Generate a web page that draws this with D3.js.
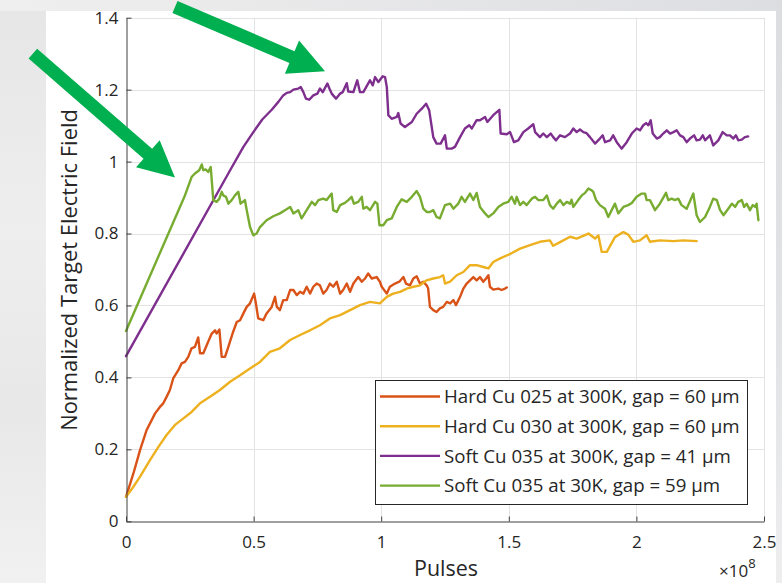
<!DOCTYPE html>
<html>
<head>
<meta charset="utf-8">
<script src="https://cdn.jsdelivr.net/npm/d3@7"></script>
<style>
  body { margin: 0; background: #fff; }
  svg { display: block; }
  text { font-family: "Open Sans", "Noto Sans", sans-serif; fill: #262626; }
</style>
</head>
<body>
<svg id="chart" width="782" height="583"></svg>
<script>
// ---- data (pulses in units of 1e8, normalized target field) ----
const xTicks = [0, 0.5, 1, 1.5, 2, 2.5];
const yTicks = [0, 0.2, 0.4, 0.6, 0.8, 1, 1.2, 1.4];
const xTickLabels = ["0", "0.5", "1", "1.5", "2", "2.5"];
const yTickLabels = ["0", "0.2", "0.4", "0.6", "0.8", "1", "1.2", "1.4"];

const seriesNames = [
  "Hard Cu 025 at 300K, gap = 60 \u03bcm",
  "Hard Cu 030 at 300K, gap = 60 \u03bcm",
  "Soft Cu 035 at 300K, gap = 41 \u03bcm",
  "Soft Cu 035 at 30K, gap = 59 \u03bcm"
];
const seriesColors = ["#D95319", "#EDB120", "#7E2F8E", "#77AC30"];

const hardCu025 = [
  [0,0.068],[0.029,0.133],[0.055,0.198],[0.081,0.254],[0.114,0.300],[0.133,0.318],[0.146,0.328],
  [0.159,0.346],[0.172,0.365],[0.185,0.397],[0.205,0.420],[0.218,0.439],[0.231,0.443],[0.244,0.457],
  [0.257,0.481],[0.270,0.485],[0.283,0.511],[0.290,0.467],[0.303,0.467],[0.322,0.499],[0.336,0.522],
  [0.349,0.531],[0.355,0.522],[0.366,0.533],[0.375,0.457],[0.388,0.457],[0.401,0.485],[0.420,0.527],
  [0.434,0.554],[0.447,0.559],[0.460,0.578],[0.473,0.596],[0.486,0.606],[0.502,0.633],[0.509,0.606],
  [0.518,0.564],[0.538,0.559],[0.551,0.578],[0.571,0.596],[0.584,0.624],[0.591,0.596],[0.603,0.587],
  [0.616,0.615],[0.630,0.615],[0.643,0.643],[0.656,0.643],[0.669,0.629],[0.682,0.638],[0.695,0.633],
  [0.708,0.652],[0.721,0.633],[0.734,0.652],[0.747,0.661],[0.760,0.656],[0.773,0.633],[0.786,0.643],
  [0.799,0.661],[0.812,0.652],[0.826,0.666],[0.839,0.633],[0.851,0.643],[0.865,0.661],[0.878,0.638],
  [0.891,0.661],[0.910,0.679],[0.924,0.666],[0.937,0.675],[0.949,0.689],[0.963,0.675],[0.982,0.679],
  [0.995,0.666],[1.002,0.652],[1.022,0.633],[1.034,0.652],[1.054,0.661],[1.071,0.666],[1.087,0.679],
  [1.097,0.661],[1.113,0.656],[1.126,0.675],[1.139,0.681],[1.152,0.661],[1.165,0.666],[1.178,0.656],
  [1.184,0.647],[1.191,0.596],[1.204,0.587],[1.217,0.582],[1.230,0.592],[1.243,0.596],[1.257,0.610],
  [1.270,0.606],[1.283,0.615],[1.293,0.601],[1.309,0.624],[1.322,0.647],[1.335,0.661],[1.348,0.670],
  [1.361,0.679],[1.374,0.670],[1.387,0.679],[1.400,0.666],[1.411,0.675],[1.420,0.684],[1.426,0.652],
  [1.439,0.644],[1.459,0.647],[1.472,0.643],[1.485,0.647],[1.492,0.650]
];

const hardCu030 = [
  [0,0.068],[0.029,0.096],[0.055,0.124],[0.094,0.170],[0.127,0.207],[0.159,0.240],[0.192,0.268],
  [0.225,0.286],[0.257,0.304],[0.290,0.328],[0.329,0.346],[0.368,0.365],[0.408,0.388],[0.447,0.406],
  [0.486,0.425],[0.525,0.443],[0.564,0.471],[0.603,0.481],[0.643,0.504],[0.682,0.518],[0.721,0.531],
  [0.760,0.545],[0.799,0.564],[0.839,0.573],[0.878,0.587],[0.917,0.601],[0.956,0.610],[0.995,0.606],
  [1.022,0.624],[1.047,0.633],[1.074,0.638],[1.100,0.647],[1.126,0.652],[1.152,0.656],[1.178,0.670],
  [1.204,0.675],[1.230,0.679],[1.243,0.684],[1.250,0.661],[1.270,0.666],[1.296,0.684],[1.322,0.693],
  [1.348,0.712],[1.374,0.712],[1.400,0.707],[1.420,0.703],[1.439,0.721],[1.466,0.731],[1.505,0.743],
  [1.544,0.758],[1.583,0.768],[1.622,0.777],[1.661,0.781],[1.674,0.766],[1.701,0.776],[1.740,0.791],
  [1.766,0.786],[1.812,0.800],[1.838,0.786],[1.851,0.795],[1.864,0.749],[1.884,0.749],[1.916,0.790],
  [1.949,0.804],[1.968,0.797],[1.988,0.777],[2.014,0.781],[2.040,0.795],[2.053,0.777],[2.092,0.781],
  [2.145,0.779],[2.184,0.781],[2.236,0.779]
];

const softCu035At300K = [
  [0,0.459],[0.408,0.976],[0.460,1.041],[0.499,1.082],[0.534,1.117],[0.571,1.144],
  [0.597,1.166],[0.616,1.184],[0.630,1.191],[0.643,1.193],[0.656,1.200],[0.675,1.203],[0.685,1.207],
  [0.695,1.193],[0.705,1.175],[0.718,1.172],[0.734,1.184],[0.750,1.189],[0.760,1.203],[0.771,1.193],
  [0.789,1.217],[0.797,1.203],[0.806,1.189],[0.823,1.175],[0.839,1.189],[0.849,1.193],[0.865,1.218],
  [0.871,1.195],[0.891,1.193],[0.906,1.226],[0.917,1.193],[0.930,1.193],[0.956,1.226],[0.967,1.212],
  [0.976,1.235],[0.989,1.221],[1.006,1.237],[1.015,1.235],[1.022,1.207],[1.028,1.129],[1.041,1.119],
  [1.061,1.124],[1.067,1.135],[1.076,1.106],[1.093,1.096],[1.120,1.110],[1.139,1.133],[1.159,1.147],
  [1.176,1.161],[1.188,1.143],[1.204,1.068],[1.217,1.050],[1.233,1.050],[1.250,1.073],[1.257,1.036],
  [1.276,1.036],[1.289,1.041],[1.309,1.068],[1.328,1.092],[1.345,1.101],[1.355,1.092],[1.374,1.115],
  [1.387,1.115],[1.407,1.124],[1.416,1.110],[1.439,1.129],[1.463,1.144],[1.468,1.078],[1.492,1.076],
  [1.505,1.082],[1.520,1.054],[1.537,1.059],[1.557,1.082],[1.576,1.092],[1.596,1.104],[1.603,1.082],
  [1.622,1.068],[1.635,1.078],[1.649,1.068],[1.664,1.078],[1.674,1.068],[1.685,1.059],[1.701,1.073],
  [1.720,1.068],[1.740,1.078],[1.753,1.092],[1.766,1.082],[1.779,1.089],[1.792,1.082],[1.805,1.079],
  [1.818,1.068],[1.838,1.050],[1.857,1.064],[1.868,1.073],[1.877,1.054],[1.897,1.059],[1.909,1.073],
  [1.923,1.054],[1.942,1.036],[1.962,1.054],[1.982,1.078],[2.001,1.092],[2.014,1.087],[2.027,1.101],
  [2.038,1.107],[2.047,1.101],[2.056,1.115],[2.064,1.078],[2.080,1.064],[2.092,1.068],[2.105,1.078],
  [2.119,1.087],[2.132,1.078],[2.145,1.082],[2.158,1.087],[2.171,1.073],[2.184,1.068],[2.197,1.054],
  [2.210,1.064],[2.226,1.073],[2.236,1.059],[2.249,1.061],[2.260,1.073],[2.269,1.059],[2.288,1.073],
  [2.301,1.045],[2.321,1.059],[2.338,1.082],[2.354,1.073],[2.367,1.073],[2.380,1.064],[2.390,1.073],
  [2.399,1.059],[2.413,1.061],[2.425,1.068],[2.438,1.070]
];

const softCu035At30K = [
  [0,0.529],[0.231,0.906],[0.257,0.957],[0.270,0.967],[0.287,0.976],[0.297,0.992],
  [0.303,0.976],[0.313,0.978],[0.322,0.971],[0.332,0.985],[0.336,0.948],[0.342,0.893],[0.355,0.888],
  [0.366,0.897],[0.375,0.916],[0.381,0.906],[0.392,0.902],[0.401,0.883],[0.414,0.893],[0.427,0.906],
  [0.440,0.916],[0.449,0.883],[0.466,0.893],[0.473,0.865],[0.486,0.818],[0.499,0.795],[0.512,0.800],
  [0.525,0.818],[0.551,0.837],[0.577,0.848],[0.603,0.856],[0.623,0.865],[0.643,0.874],[0.656,0.856],
  [0.675,0.865],[0.688,0.842],[0.708,0.865],[0.728,0.888],[0.741,0.879],[0.754,0.893],[0.773,0.897],
  [0.786,0.893],[0.806,0.911],[0.812,0.865],[0.826,0.860],[0.839,0.879],[0.858,0.885],[0.871,0.893],
  [0.884,0.902],[0.893,0.883],[0.910,0.888],[0.924,0.902],[0.930,0.869],[0.943,0.874],[0.956,0.865],
  [0.976,0.888],[0.985,0.883],[0.993,0.823],[1.008,0.823],[1.022,0.837],[1.041,0.842],[1.061,0.874],
  [1.080,0.895],[1.100,0.888],[1.120,0.902],[1.139,0.918],[1.152,0.902],[1.165,0.869],[1.178,0.860],
  [1.191,0.860],[1.204,0.865],[1.217,0.846],[1.230,0.842],[1.250,0.879],[1.270,0.883],[1.283,0.869],
  [1.302,0.883],[1.315,0.902],[1.328,0.888],[1.348,0.911],[1.361,0.893],[1.374,0.913],[1.387,0.874],
  [1.407,0.856],[1.420,0.846],[1.439,0.856],[1.459,0.874],[1.478,0.883],[1.498,0.888],[1.511,0.902],
  [1.524,0.883],[1.531,0.902],[1.544,0.879],[1.557,0.888],[1.570,0.879],[1.590,0.897],[1.603,0.902],
  [1.616,0.893],[1.635,0.893],[1.649,0.906],[1.661,0.879],[1.674,0.869],[1.688,0.883],[1.701,0.893],
  [1.714,0.879],[1.727,0.888],[1.740,0.883],[1.746,0.894],[1.753,0.874],[1.772,0.893],[1.786,0.906],
  [1.799,0.913],[1.812,0.925],[1.825,0.920],[1.831,0.916],[1.842,0.893],[1.857,0.879],[1.877,0.869],
  [1.890,0.846],[1.903,0.865],[1.916,0.883],[1.929,0.856],[1.949,0.874],[1.968,0.879],[1.982,0.885],
  [2.001,0.902],[2.021,0.911],[2.034,0.911],[2.040,0.893],[2.053,0.893],[2.073,0.865],[2.092,0.883],
  [2.116,0.913],[2.125,0.893],[2.138,0.897],[2.151,0.893],[2.164,0.897],[2.177,0.879],[2.197,0.869],
  [2.223,0.911],[2.236,0.851],[2.249,0.832],[2.269,0.846],[2.288,0.874],[2.301,0.897],[2.315,0.893],
  [2.328,0.865],[2.341,0.851],[2.360,0.869],[2.374,0.883],[2.387,0.874],[2.399,0.888],[2.413,0.893],
  [2.422,0.874],[2.432,0.883],[2.445,0.865],[2.456,0.879],[2.465,0.874],[2.471,0.883],[2.478,0.837]
];

const allSeries = [hardCu025, hardCu030, softCu035At300K, softCu035At30K];

// Callout arrows, given as [tail, tip] in data coordinates
const calloutArrows = [
  [[-0.365, 1.300], [0.192, 0.956]],
  [[0.192, 1.430], [0.780, 1.251]]
];

// ---- layout ----
const W = 782, H = 583;
const plot = { left: 126, right: 764, top: 17.7, bottom: 521.3 };
const svg = d3.select("#chart");

const x = d3.scaleLinear().domain([0, 2.5]).range([plot.left, plot.right]);
const y = d3.scaleLinear().domain([0, 1.4]).range([plot.bottom, plot.top]);

// Scale a text's font size so its rendered run spans the given width
function fitWidth(sel, width) {
  sel.each(function () {
    const len = this.getComputedTextLength();
    const fs = parseFloat(this.getAttribute("font-size"));
    if (len > 0) this.setAttribute("font-size", (fs * width / len).toFixed(2));
  });
}

// ---- slide backdrop ----
const defs = svg.append("defs");
const gTop = defs.append("linearGradient").attr("id", "topFade").attr("x1", 0).attr("x2", 1).attr("y1", 0).attr("y2", 0);
gTop.append("stop").attr("offset", "0%").attr("stop-color", "#efefef");
gTop.append("stop").attr("offset", "35%").attr("stop-color", "#e9e9ea");
gTop.append("stop").attr("offset", "100%").attr("stop-color", "#dddee2");
const gLeft = defs.append("linearGradient").attr("id", "leftFade").attr("x1", 0).attr("x2", 0).attr("y1", 0).attr("y2", 1);
gLeft.append("stop").attr("offset", "0%").attr("stop-color", "#e6e6e6");
gLeft.append("stop").attr("offset", "40%").attr("stop-color", "#eeeeee");
gLeft.append("stop").attr("offset", "70%").attr("stop-color", "#e8e8e8");
gLeft.append("stop").attr("offset", "100%").attr("stop-color", "#f1f1f1");
const gRight = defs.append("linearGradient").attr("id", "rightFade").attr("x1", 0).attr("x2", 0).attr("y1", 0).attr("y2", 1);
gRight.append("stop").attr("offset", "0%").attr("stop-color", "#dcdde1");
gRight.append("stop").attr("offset", "60%").attr("stop-color", "#e2e3e6");
gRight.append("stop").attr("offset", "100%").attr("stop-color", "#eeeeef");

svg.append("rect").attr("width", W).attr("height", H).attr("fill", "url(#leftFade)");
svg.append("rect").attr("x", 0).attr("y", 0).attr("width", W).attr("height", 11).attr("fill", "url(#topFade)");
svg.append("rect").attr("x", 776).attr("y", 0).attr("width", 6).attr("height", H).attr("fill", "url(#rightFade)");
svg.append("rect").attr("x", 46).attr("y", 11).attr("width", 730).attr("height", H - 11).attr("fill", "#ffffff");

// ---- grid ----
const grid = svg.append("g").attr("stroke", "#e3e3e3").attr("stroke-width", 1);
grid.selectAll("line.v").data(xTicks.filter(d => d > 0)).join("line")
  .attr("x1", d => Math.round(x(d)) + 0.5).attr("x2", d => Math.round(x(d)) + 0.5)
  .attr("y1", plot.top).attr("y2", plot.bottom);
grid.selectAll("line.h").data(yTicks.filter(d => d > 0)).join("line")
  .attr("y1", d => Math.round(y(d)) + 0.5).attr("y2", d => Math.round(y(d)) + 0.5)
  .attr("x1", plot.left).attr("x2", plot.right);

// ---- series ----
const line = d3.line().x(d => x(d[0])).y(d => y(d[1]));
svg.append("g").selectAll("path").data(allSeries).join("path")
  .attr("d", line)
  .attr("fill", "none")
  .attr("stroke", (d, i) => seriesColors[i])
  .attr("stroke-width", 2.4)
  .attr("stroke-linejoin", "round")
  .attr("stroke-linecap", "round");

// ---- axes ----
const axisColor = "#404040";
const yAxis = svg.append("g").attr("transform", `translate(${plot.left + 0.5},0)`)
  .call(d3.axisLeft(y).tickValues(yTicks).tickFormat((d, i) => yTickLabels[i])
    .tickSizeInner(-5).tickSizeOuter(0).tickPadding(8));
const xAxis = svg.append("g").attr("transform", `translate(0,${Math.round(plot.bottom) + 0.5})`)
  .call(d3.axisBottom(x).tickValues(xTicks).tickFormat((d, i) => xTickLabels[i])
    .tickSizeInner(-5).tickSizeOuter(0).tickPadding(14));
[yAxis, xAxis].forEach(a => {
  a.select(".domain").attr("stroke", axisColor);
  a.selectAll(".tick line").attr("stroke", axisColor);
  a.selectAll(".tick text").attr("font-size", 17).attr("fill", "#262626")
    .style("font-family", "'Open Sans', 'Noto Sans', sans-serif");
});

// axis titles
const yTitle = svg.append("text")
  .attr("transform", `translate(77,270) rotate(-90)`)
  .attr("text-anchor", "middle").attr("font-size", 20)
  .text("Normalized Target Electric Field");
fitWidth(yTitle, 322);
const xTitle = svg.append("text")
  .attr("x", 446).attr("y", 576).attr("text-anchor", "middle").attr("font-size", 21)
  .text("Pulses");
fitWidth(xTitle, 64);
const expo = svg.append("text").attr("x", 719).attr("y", 577).attr("font-size", 17);
expo.append("tspan").text("\u00d710");
expo.append("tspan").attr("font-size", 13).attr("dy", -9).text("8");

// ---- legend ----
const legend = svg.append("g");
legend.append("rect").attr("x", 375.5).attr("y", 380.5).attr("width", 372).attr("height", 124)
  .attr("fill", "#fff").attr("stroke", "#262626").attr("stroke-width", 1);
const rows = legend.selectAll("g.row").data(seriesNames).join("g")
  .attr("transform", (d, i) => `translate(0,${396.5 + i * 29.7})`);
rows.append("line").attr("x1", 380).attr("x2", 440).attr("y1", 0).attr("y2", 0)
  .attr("stroke", (d, i) => seriesColors[i]).attr("stroke-width", 2.4);
const legendText = rows.append("text").attr("x", 444).attr("y", 0).attr("dy", "0.36em")
  .attr("font-size", 18.5).text(d => d);
fitWidth(legendText.filter((d, i) => i === 0), 296);
legendText.attr("font-size", legendText.filter((d, i) => i === 0).attr("font-size"));

// ---- callout arrows ----
function arrowPolygon(tail, tip, shaft, headLen, headHalf) {
  const [x0, y0] = [x(tail[0]), y(tail[1])];
  const [x1, y1] = [x(tip[0]), y(tip[1])];
  const dx = x1 - x0, dy = y1 - y0, L = Math.hypot(dx, dy);
  const ux = dx / L, uy = dy / L, nx = -uy, ny = ux;
  const bx = x1 - ux * headLen, by = y1 - uy * headLen;
  const s = shaft / 2;
  return [
    [x0 + nx * s, y0 + ny * s], [bx + nx * s, by + ny * s], [bx + nx * headHalf, by + ny * headHalf],
    [x1, y1],
    [bx - nx * headHalf, by - ny * headHalf], [bx - nx * s, by - ny * s], [x0 - nx * s, y0 - ny * s]
  ];
}
svg.append("g").selectAll("polygon").data(calloutArrows).join("polygon")
  .attr("points", d => arrowPolygon(d[0], d[1], 13, 36, 18).map(p => p.join(",")).join(" "))
  .attr("fill", "#00B050");
</script>
</body>
</html>
